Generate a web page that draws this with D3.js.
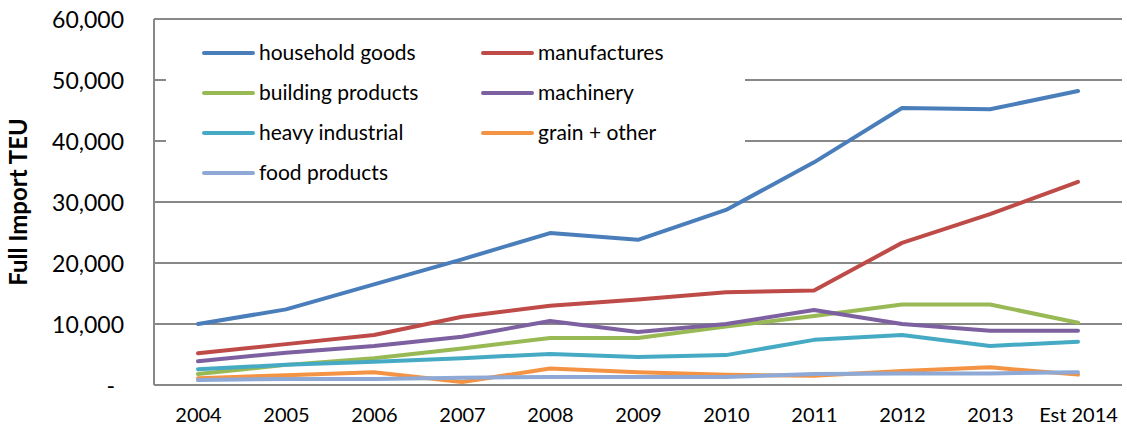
<!DOCTYPE html>
<html>
<head>
<meta charset="utf-8">
<script src="https://cdn.jsdelivr.net/npm/d3@7"></script>
<style>
  body { margin: 0; background: #fff; }
  text { font-family: Lato, "Open Sans", sans-serif; fill: #000; }
</style>
</head>
<body>
<div id="chart"></div>
<script>
const years = ["2004", "2005", "2006", "2007", "2008", "2009", "2010", "2011", "2012", "2013", "Est 2014"]

const householdGoods = [10000, 12400, 16500, 20600, 24900, 23800, 28700, 36500, 45400, 45200, 48200]
const manufactures = [5200, 6700, 8200, 11200, 13000, 14000, 15200, 15500, 23300, 28000, 33300]
const buildingProducts = [1800, 3300, 4400, 6000, 7700, 7700, 9600, 11300, 13200, 13200, 10200]
const machinery = [3900, 5300, 6400, 7900, 10500, 8700, 10000, 12300, 10000, 8900, 8900]
const heavyIndustrial = [2600, 3300, 3800, 4400, 5100, 4600, 4900, 7400, 8200, 6400, 7100]
const grainOther = [1100, 1600, 2100, 500, 2700, 2100, 1700, 1500, 2300, 2900, 1700]
const foodProducts = [800, 1000, 1000, 1200, 1300, 1300, 1300, 1800, 1900, 1900, 2100]

const seriesNames = ["household goods", "manufactures", "building products", "machinery",
  "heavy industrial", "grain + other", "food products"]
const seriesValues = [householdGoods, manufactures, buildingProducts, machinery,
  heavyIndustrial, grainOther, foodProducts]
const seriesColors = ["#4A7EBB", "#BE4B48", "#98B954", "#7D60A0", "#46AAC5", "#F39343", "#8EA9D6"]

const yTicks = [0, 10000, 20000, 30000, 40000, 50000, 60000]

const width = 1127, height = 428
const plot = { left: 154, right: 1122, top: 19, bottom: 385 }

const svg = d3.select("#chart").append("svg")
  .attr("width", width)
  .attr("height", height)

const x = d3.scalePoint()
  .domain(years)
  .range([plot.left, plot.right])
  .padding(0.5)

const y = d3.scaleLinear()
  .domain([0, 60000])
  .range([plot.bottom, plot.top])

// gridlines
svg.append("g")
  .selectAll("line")
  .data(yTicks.filter(d => d > 0))
  .join("line")
  .attr("x1", plot.left)
  .attr("x2", plot.right)
  .attr("y1", d => y(d))
  .attr("y2", d => y(d))
  .attr("stroke", "#888")
  .attr("stroke-width", 2)

// y axis (labels only, Excel style)
const fmt = d => d === 0 ? "-" : d3.format(",")(d)
const yAxis = svg.append("g")
  .attr("transform", `translate(${plot.left},0)`)
  .call(d3.axisLeft(y).tickValues(yTicks).tickFormat(fmt).tickSize(0).tickPadding(30))
yAxis.select(".domain").remove()
yAxis.selectAll("text")
  .style("font-size", "23px")
  .attr("dy", "0.35em")
  .filter(d => d === 0).attr("dx", -9)

// x axis
const xAxis = svg.append("g")
  .attr("transform", `translate(0,${plot.bottom})`)
  .call(d3.axisBottom(x).tickSize(0).tickPadding(23))
xAxis.select(".domain").remove()
xAxis.selectAll("text").style("font-size", "20px")

// axis lines
svg.append("line")
  .attr("x1", plot.left).attr("x2", plot.left)
  .attr("y1", plot.top).attr("y2", plot.bottom)
  .attr("stroke", "#888").attr("stroke-width", 2)
svg.append("line")
  .attr("x1", plot.left).attr("x2", plot.right)
  .attr("y1", plot.bottom).attr("y2", plot.bottom)
  .attr("stroke", "#888").attr("stroke-width", 2)

// y title
svg.append("text")
  .attr("transform", `translate(27,${(plot.top + plot.bottom) / 2}) rotate(-90)`)
  .attr("text-anchor", "middle")
  .style("font-size", "24px")
  .style("font-weight", "bold")
  .text("Full Import TEU")

// lines
const line = d3.line()
  .x((d, i) => x(years[i]))
  .y(d => y(d))

svg.append("g")
  .selectAll("path")
  .data(seriesValues)
  .join("path")
  .attr("d", line)
  .attr("fill", "none")
  .attr("stroke", (d, i) => seriesColors[i])
  .attr("stroke-width", 4)
  .attr("stroke-linejoin", "round")
  .attr("stroke-linecap", "round")

// legend, white box over the gridlines
svg.append("rect")
  .attr("x", 166).attr("y", 21)
  .attr("width", 579).attr("height", 172)
  .attr("fill", "#fff")

const legend = svg.append("g")
const items = legend.selectAll("g")
  .data(seriesNames)
  .join("g")
  .attr("transform", (d, i) => `translate(${i % 2 === 0 ? 204 : 483},${53 + Math.floor(i / 2) * 40})`)

items.append("line")
  .attr("x1", 0).attr("x2", 49)
  .attr("stroke", (d, i) => seriesColors[i])
  .attr("stroke-width", 4)
  .attr("stroke-linecap", "round")

items.append("text")
  .attr("x", 55)
  .attr("dy", "0.35em")
  .style("font-size", "21px")
  .text(d => d)
</script>
</body>
</html>
